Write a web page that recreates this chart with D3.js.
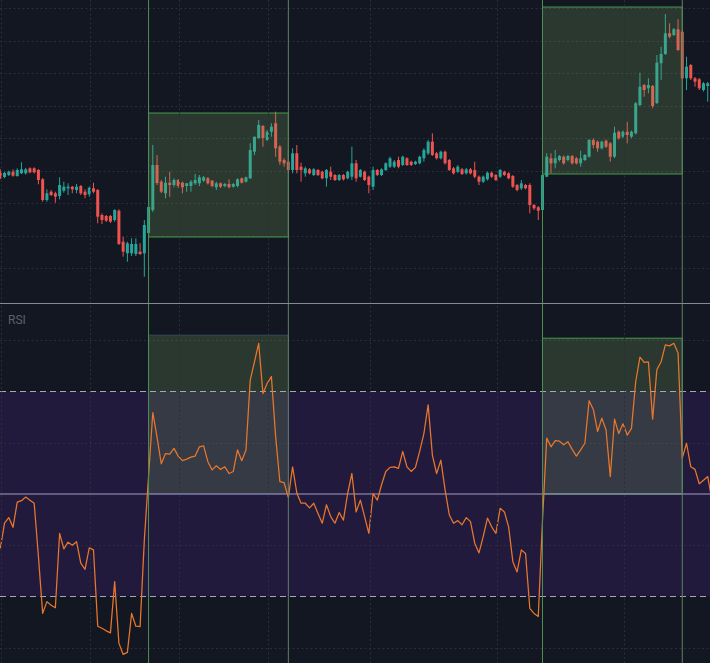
<!DOCTYPE html>
<html><head><meta charset="utf-8">
<script src="https://cdn.jsdelivr.net/npm/d3@7"></script>
<style>html,body{margin:0;padding:0;background:#131722;overflow:hidden}</style>
</head><body><svg id="c" width="710" height="663"></svg>
<script>
// ---- data (bar index = position in arrays) ----
const openP = [128.3,123,125,128.3,124,126.7,126.7,131.7,131.7,130,
120.7,100,108.3,106.7,104,109.3,111.7,113.3,110,114,
108.3,105.7,111.7,110,85,84,84,80,89.3,58.3,
46.7,46.7,46,48.3,46.7,67,90,135,118.3,106.7,
117.3,115,120,117.3,114,114,116.7,116.7,119.3,121.7,
119.3,112.7,116.7,114,116,113.3,114,121.7,118.3,121.7,
148.3,162,174,160,168.3,176.7,153.3,140,138.3,130,
146.7,133.3,126.7,130.7,125,130,128.3,121.7,128.3,125,
120,125,121.7,123.3,136.7,123.3,128.3,123.3,113.3,130,
125,130,133.3,133.3,140,135,141.7,138.3,136,136.7,
141.7,146.7,158.3,146.7,141.7,148.3,140,131.7,128.3,130.7,
126.7,130.7,130,123.3,118.3,120.7,127.3,125,123.3,128.3,
126.7,124,115,111.7,115,115,95,92.7,90,123.3,
141.7,136.7,140,143.3,140,144,141.7,136.7,140,143.3,
160,158.3,151.7,159.3,156.7,143.3,168.3,163.3,168.3,163.3,
166.7,195,215,211.7,214,197,236.7,246,266.7,265,
270.7,268.3,221.7,235,221.7,220.7,210,214,216];
const highP = [130.7,128.3,129.3,130.7,131.7,137.7,132,132.7,132.7,131,
122,110.7,110,108.3,122.7,118.3,116.7,114,116,115,
110.7,113.3,117.3,111,86.7,85,85,90.7,90.7,63.3,
58.3,61.7,61.7,56.7,80,95,155,145,120,123.3,
128.3,121.7,121,118.3,117,120,126,125,124,123,
120,118.3,117.5,117,120.7,117,121.7,122.5,123.3,156.7,
163.3,180,175,170,176.7,188.3,155,141.7,150,151.7,
155,137.3,133.3,132,132,131,129.3,131,133.3,126,
126,126,129.3,153.3,140,131,129.3,124.3,133.3,131,
131.7,137.7,143.3,140,143.3,144.3,142.7,139.3,139.3,144.3,
151.7,160,166.7,148,149.3,149.3,141,133,135,132,
132,132,138.3,124.5,124.5,128.3,128.3,126,131,129.3,
127.7,125,116,120,116,116.7,96,94,126,146.7,
146.7,150,145,144.5,145,145,143,149.3,146,161,
161.7,159.5,159.5,160.5,158,173.3,169.5,169.5,178.3,169.5,
198,227.3,216,221.7,215,245,253.3,286,276.7,272,
280.7,270,243.3,236,223,222,218,218,217.5];
const lowP = [121,121.7,124,123.3,123.3,126,125.5,126.7,126.5,115.7,
98.3,98.3,104,97.3,100.7,107.3,105,106.7,106.7,105,
101.7,103.3,106.7,76.7,76,78,77,78.3,55,43.3,
38.3,44,44,45,23.3,64,88,115,107,101.7,
103.3,112.7,112,106.7,108.3,108.3,115,114,118,115.5,
112.7,110,112,112.7,111.7,112.5,112.7,116.5,117.5,121,
145,161,153.3,159,163.3,143.3,135,133.3,126.7,126.7,
126.7,118.3,123.3,125.5,124,124,120.7,113.3,120,119,
119,119.5,120.7,120,118.3,122.5,119,106.7,110,124,
124,129,132,132,131.7,134,134,134,135,135.7,
138.3,145,144,140.5,140.5,135.5,129,125.5,127,125,
125.5,125.5,121.7,115,117,119.5,122,119,122,124,
120.7,112,108.7,110,110.7,86.7,90,80,80,122.7,
126.7,131.7,138.5,135.5,138.5,135.5,135.5,133.3,139,142.5,
151.7,148.3,150.5,152,138.3,142,160.5,162,156.7,162,
165.5,194,203.3,206.7,191.7,196,220,245,261.7,264,
249,220.5,210,220,213.3,210,208.5,198.3,205];
const closeP = [121.7,127,128.3,124.3,130,130.7,130.7,127.7,127.7,120,
100,106.7,105,103.3,115,113.3,113.3,110.7,113.3,106.7,
105,112.3,108.3,83.3,80,79.3,78.3,90,56,48.3,
56.7,56,56,46,75,93,135,117,108.3,117.3,
115,120,114,112.7,116.7,118.3,120,122.7,122.7,116.7,
114,116.7,113.3,116,112.7,116,120.7,117.3,122.7,150,
163.3,175,162,168.3,173.3,151.7,138.3,136.7,130,146.7,
130,130,131.7,126.7,130.7,125,121.7,130,123.3,120,
125,120.7,128.3,136.7,121.7,130,120,115,130,125,
130.7,136.7,141.7,138.3,133.3,143.3,135,135,138.3,143.3,
150,158.3,145,141.7,148.3,136.7,130,126.7,133.3,126,
130.7,126.7,123.3,118.3,123.3,127.3,123.3,120,130,125,
121.7,113.3,110,116.7,111.7,95,91.7,89.3,125,143.3,
136.7,141.7,144,136.7,144,136.7,136.7,141.7,145,160,
155,151.7,158.3,153.3,143.3,167.3,161.7,168.3,165,168.3,
196.7,213.3,210,215,194,237.3,246,266.7,263.3,270.7,
250,221.7,233.3,221.7,218.3,211.7,216.7,216.7,208];
const rsi = [39.4,44.3,45.4,43.5,48.4,48.7,49.4,48.8,48.2,37.8,
26.7,29.0,28.3,27.8,42.3,39.3,40.6,40.0,40.7,36.5,
35.3,39.5,39.1,24.2,23.8,23.3,22.9,32.9,20.9,18.7,
19.1,26.7,24.2,24.1,41.0,53.5,65.9,61.1,55.9,57.9,
57.8,58.9,57.4,56.5,56.8,57.2,57.4,59.2,59.4,56.3,
54.7,55.5,54.8,55.3,54.0,54.4,58.6,56.5,58.6,72.2,
75.8,79.4,69.6,71.6,72.9,61.2,52.4,52.2,49.3,55.3,
50.2,48.2,48.2,47.3,48.2,46.2,44.3,47.9,45.6,44.3,
46.4,44.9,50.1,54.0,46.5,48.8,45.6,42.3,50.1,48.8,
51.8,54.4,55.2,55.3,55.0,58.3,55.3,54.4,55.2,58.3,
61.8,67.4,57.6,54.0,56.6,50.8,45.9,44.3,44.8,44.0,
45.4,44.6,40.4,38.5,41.7,45.3,43.6,42.3,47.2,46.5,
43.6,36.8,34.8,39.1,38.4,27.7,26.7,26.1,44.9,60.9,
59.2,60.4,60.3,59.6,60.2,58.7,57.4,58.6,59.9,68.2,
66.5,62.2,64.8,62.5,53.4,64.6,61.8,63.7,61.5,62.8,
71.9,76.7,75.7,75.8,64.6,74.3,75.8,79.1,78.9,79.4,
77.5,57.0,59.9,55.3,54.8,52.0,52.7,53.4,48.8];
const priceGridTicks = [32,64.5,97,129.5,162,194.5,227,259.5,292];
const rsiGridTicks = [20,40,60,80];
const rsiLevels = {upper:70, middle:50, lower:30};
const timeGridBars = [0,21,42,63,87,117,147];
const zoneStart = [35,128];
const zoneEnd = [68,161];
const zonePriceTop = [187,293];
const zonePriceBottom = [63,126];
const zoneRsiTop = [81.0,80.4];

// ---- layout ----
const W = 710, H = 663;
const pricePane = {top:0, bottom:303};
const rsiPane = {top:304, bottom:663};
const svg = d3.select('#c');
const defs = svg.append('defs');
defs.append('clipPath').attr('id','cp').append('rect').attr('x',0).attr('y',pricePane.top).attr('width',W).attr('height',pricePane.bottom-pricePane.top);
defs.append('clipPath').attr('id','cr').append('rect').attr('x',0).attr('y',rsiPane.top).attr('width',W).attr('height',rsiPane.bottom-rsiPane.top);

svg.append('rect').attr('width',W).attr('height',H).attr('fill','#131722');

const n = closeP.length;
const x = d3.scaleLinear().domain([0, n-1]).range([0.3, 0.3 + 4.236*(n-1)]);
const y = d3.scaleLinear().domain([0, 300]).range([300, 0]);
const yr = d3.scaleLinear().domain([30, 70]).range([596.5, 391.5]);

const gP = svg.append('g').attr('clip-path','url(#cp)');
const gR = svg.append('g').attr('clip-path','url(#cr)');

// RSI band
gR.append('rect').attr('x',0).attr('width',W)
  .attr('y', yr(rsiLevels.upper)).attr('height', yr(rsiLevels.lower)-yr(rsiLevels.upper))
  .attr('fill','#221a3d');

// grids
const gridStyle = s => s.attr('stroke','#2a2e3b').attr('stroke-width',1).attr('stroke-dasharray','2,2.5');
gP.selectAll('.hg').data(priceGridTicks).join('line')
  .attr('x1',0).attr('x2',W).attr('y1',d=>Math.round(y(d))+0.5).attr('y2',d=>Math.round(y(d))+0.5).call(gridStyle);
gR.selectAll('.rg').data(rsiGridTicks).join('line')
  .attr('x1',0).attr('x2',W).attr('y1',d=>Math.round(yr(d))+0.5).attr('y2',d=>Math.round(yr(d))+0.5).call(gridStyle);
svg.selectAll('.vg').data(timeGridBars).join('line')
  .attr('x1',d=>Math.round(x(d))+1.5).attr('x2',d=>Math.round(x(d))+1.5).attr('y1',0).attr('y2',H).call(gridStyle);

// candles
const idx = d3.range(n);
const up = i => closeP[i] >= openP[i];
const cg = gP.append('g');
cg.selectAll('line').data(idx).join('line')
  .attr('x1',i=>x(i)).attr('x2',i=>x(i))
  .attr('y1',i=>y(highP[i])).attr('y2',i=>y(lowP[i]))
  .attr('stroke',i=>up(i)?'#26a69a':'#ef5350').attr('stroke-width',1);
cg.selectAll('rect').data(idx).join('rect')
  .attr('x',i=>x(i)-1.5).attr('width',3)
  .attr('y',i=>y(Math.max(openP[i],closeP[i])))
  .attr('height',i=>Math.max(1, Math.abs(y(openP[i])-y(closeP[i]))))
  .attr('fill',i=>up(i)?'#26a69a':'#ef5350');

// price zones
zoneStart.forEach((s,k)=>{
  gP.append('rect').attr('x',x(s)).attr('width',x(zoneEnd[k])-x(s))
    .attr('y',y(zonePriceTop[k])).attr('height',y(zonePriceBottom[k])-y(zonePriceTop[k]))
    .attr('fill','rgba(120,165,95,0.24)').attr('stroke','#4caf50').attr('stroke-opacity',0.85).attr('stroke-width',1);
});

// RSI zones
zoneStart.forEach((s,k)=>{
  gR.append('rect').attr('x',x(s)).attr('width',x(zoneEnd[k])-x(s))
    .attr('y',yr(zoneRsiTop[k])).attr('height',yr(rsiLevels.middle)-yr(zoneRsiTop[k]))
    .attr('fill','rgba(120,165,95,0.24)')
    .attr('stroke', k===0 ? '#3c5a78' : '#4caf50').attr('stroke-opacity', k===0?0.6:0.85).attr('stroke-width',1);
});

// RSI levels
gR.append('line').attr('x1',0).attr('x2',W).attr('y1',yr(rsiLevels.middle)).attr('y2',yr(rsiLevels.middle))
  .attr('stroke','#a49cc6').attr('stroke-width',1);
[rsiLevels.upper, rsiLevels.lower].forEach(v=>{
  gR.append('line').attr('x1',0).attr('x2',W).attr('y1',yr(v)).attr('y2',yr(v))
    .attr('stroke','#a6a8b0').attr('stroke-width',1).attr('stroke-dasharray','6,4');
});

// RSI line
gR.append('path').datum(idx)
  .attr('d', d3.line().x(i=>x(i)).y(i=>yr(rsi[i])))
  .attr('fill','none').attr('stroke','#e8772d').attr('stroke-width',1.25).attr('stroke-linejoin','round');

// vertical zone lines
const vl = [];
zoneStart.forEach((s,k)=>{ vl.push({b:s, c:'#4d8f51'}); vl.push({b:zoneEnd[k], c:'#5f8062'}); });
svg.selectAll('.vl').data(vl).join('line')
  .attr('x1',d=>x(d.b)).attr('x2',d=>x(d.b)).attr('y1',0).attr('y2',H)
  .attr('stroke',d=>d.c).attr('stroke-width',1);

// pane separator
svg.append('line').attr('x1',0).attr('x2',W).attr('y1',303.5).attr('y2',303.5)
  .attr('stroke','#868993').attr('stroke-width',1);

// label
svg.append('text').attr('x',8).attr('y',324).text('RSI')
  .attr('fill','#5d606b').attr('font-family','Roboto, "Noto Sans", sans-serif').attr('font-size',12);
</script></body></html>
